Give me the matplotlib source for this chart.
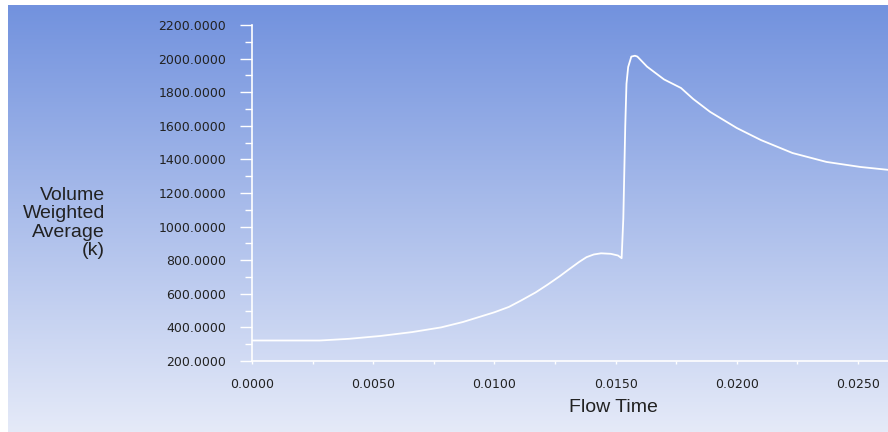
import matplotlib.pyplot as plt
import numpy as np
from matplotlib.colors import LinearSegmentedColormap
from matplotlib.ticker import FixedLocator, MultipleLocator, FormatStrFormatter

# volume weighted average temperature vs flow time
flow_time = [0.0, 0.0028, 0.0040, 0.0053, 0.0066, 0.0078, 0.0087, 0.0100,
             0.0106, 0.0111, 0.0117, 0.0122, 0.0127, 0.0131, 0.0135, 0.0138,
             0.0141, 0.0144, 0.0148, 0.0151,
             0.01525, 0.01532, 0.01540, 0.01545, 0.01552, 0.01565, 0.0158,
             0.0159, 0.0163, 0.0170, 0.0177, 0.0182, 0.0189, 0.0200, 0.0210,
             0.0223, 0.0237, 0.0251, 0.0263]
temperature = [322, 322, 332, 349, 372, 400, 432, 490,
               522, 560, 608, 655, 705, 748, 790, 818,
               834, 841, 838, 828,
               812, 1050, 1600, 1850, 1950, 2012, 2017,
               2012, 1952, 1876, 1825, 1760, 1683, 1587, 1515,
               1438, 1385, 1355, 1337]

x_ticks = [0.0, 0.005, 0.010, 0.015, 0.020, 0.025]
y_ticks = [200, 400, 600, 800, 1000, 1200, 1400, 1600, 1800, 2000, 2200]

W, H = 888, 432
fig = plt.figure(figsize=(W / 100, H / 100), dpi=100)
fig.patch.set_facecolor("white")

# gradient background
cmap = LinearSegmentedColormap.from_list("bg", ["#7292de", "#e5eaf8"])
bg = fig.add_axes([8 / W, 0, (W - 8) / W, (H - 5) / H])
bg.imshow(np.linspace(0, 1, 256).reshape(-1, 1), aspect="auto", cmap=cmap,
          interpolation="bilinear")
bg.axis("off")

ax = fig.add_axes([252 / W, 71 / H, (W - 252) / W, 336 / H])
ax.patch.set_alpha(0)
ax.plot(flow_time, temperature, color="white", lw=1.3)

ax.set_xlim(0, 0.02624)
ax.set_ylim(200, 2200)

for s in ["top", "right"]:
    ax.spines[s].set_visible(False)
for s in ["left", "bottom"]:
    ax.spines[s].set_color("white")
    ax.spines[s].set_linewidth(1.2)

ax.xaxis.set_major_locator(FixedLocator(x_ticks))
ax.xaxis.set_minor_locator(MultipleLocator(0.0025))
ax.yaxis.set_major_locator(FixedLocator(y_ticks))
ax.yaxis.set_minor_locator(MultipleLocator(100))
ax.xaxis.set_major_formatter(FormatStrFormatter("%.4f"))
ax.yaxis.set_major_formatter(FormatStrFormatter("%.4f"))

ax.tick_params(axis="x", which="both", direction="out", length=2.5,
               width=1.0, color="white", pad=10, labelcolor="#222222",
               labelsize=9)
ax.tick_params(axis="y", which="major", direction="out", length=8.6,
               width=1.0, color="white", pad=10, labelcolor="#222222",
               labelsize=9)
ax.tick_params(axis="y", which="minor", direction="out", length=5,
               width=1.0, color="white")
for lbl in ax.get_xticklabels() + ax.get_yticklabels():
    lbl.set_family("DejaVu Sans")

fig.text(613 / W, 1 - 408 / H, "Flow Time", ha="center", va="center",
         fontsize=14, family="Liberation Sans", color="#222222")
fig.text(105 / W, 1 - 223 / H, "Volume\nWeighted\nAverage\n(k)",
         ha="right", va="center", fontsize=14, family="Liberation Sans",
         color="#222222", linespacing=1.1, multialignment="right")

fig.savefig("out.png", dpi=100)
